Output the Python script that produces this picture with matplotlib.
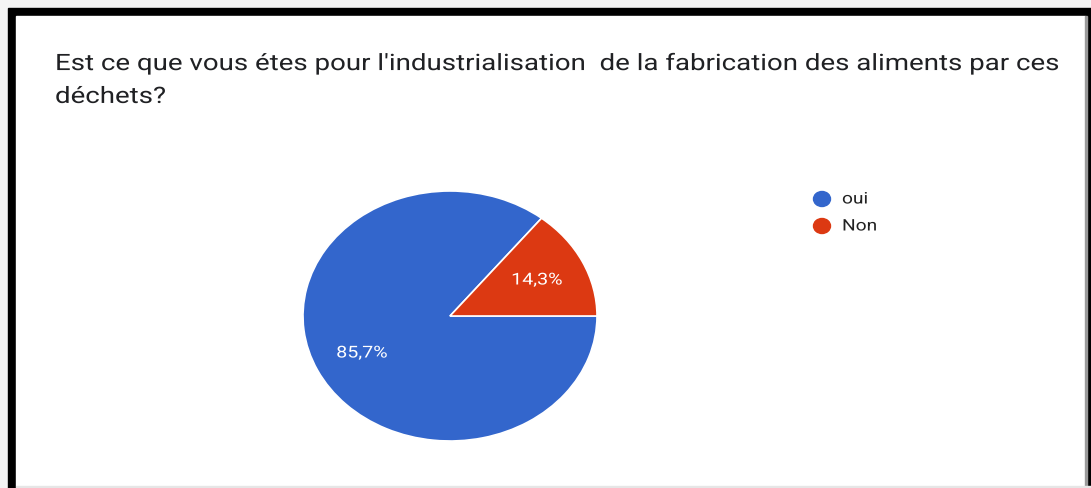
import matplotlib.pyplot as plt
from matplotlib.patches import Rectangle, Ellipse
from matplotlib.patheffects import AbstractPathEffect
from matplotlib.transforms import Affine2D

# data
labels = ["oui", "Non"]
values = [85.7, 14.3]
pct_text = ["85,7%", "14,3%"]
colors = ["#3366CC", "#DC3912"]
title = ("Est ce que vous étes pour l'industrialisation  de la fabrication des aliments par ces\n"
         "déchets?")

W, H = 1091, 488
SX = 1.2  # the screenshot is stretched sideways


class Stretch(AbstractPathEffect):
    # widen glyphs horizontally around a fixed x (display pixels)
    def __init__(self, x0, sx=SX):
        super().__init__()
        self.x0 = x0
        self.sx = sx

    def draw_path(self, renderer, gc, tpath, affine, rgbFace=None):
        t = affine + Affine2D().translate(-self.x0, 0).scale(self.sx, 1).translate(self.x0, 0)
        renderer.draw_path(gc, tpath, t, rgbFace)


fig = plt.figure(figsize=(W / 100, H / 100), dpi=100)
plt.rcParams['font.family'] = ['Roboto', 'DejaVu Sans']

# frame around the screenshot
bg = fig.add_axes([0, 0, 1, 1])
bg.set_xlim(0, W)
bg.set_ylim(H, 0)
bg.set_axis_off()
bg.add_patch(Rectangle((0, 0), W, H, color="#f4f4f4"))
bg.add_patch(Rectangle((8, 8), W - 8, H - 8, color="black"))
bg.add_patch(Rectangle((16, 16), W - 16 - 6, H - 16 - 2, color="white"))
bg.add_patch(Rectangle((W - 6, 16), 2, H - 16, color="#9a9a9a"))
bg.add_patch(Rectangle((16, H - 2), W - 16, 2, color="#e6e6e6"))

# pie drawn as ellipse by giving axes the bounding box
cx, cy, rx, ry = 450, 316, 147, 125
ax = fig.add_axes([(cx - rx) / W, 1 - (cy + ry) / H, 2 * rx / W, 2 * ry / H])
startangle = values[1] / 100 * 360
wedges, _ = ax.pie(values, colors=colors, startangle=startangle, counterclock=True,
                   wedgeprops=dict(edgecolor="white", linewidth=1.2))
ax.set_aspect("auto")
ax.set_xlim(-1, 1)
ax.set_ylim(-1, 1)

# overlay for text
top = fig.add_axes([0, 0, 1, 1])
top.set_xlim(0, W)
top.set_ylim(H, 0)
top.set_axis_off()
top.patch.set_alpha(0)

top.text(55, 80, title, fontsize=16.3, color="#202124", va="center",
         ha="left", linespacing=1.55, path_effects=[Stretch(55, 1.222)])

# percent labels
top.text(362, 353, pct_text[0], color="white", fontsize=11.8, ha="center", va="center",
         path_effects=[Stretch(362)])
top.text(537, 280, pct_text[1], color="white", fontsize=11.8, ha="center", va="center",
         path_effects=[Stretch(537)])

# legend
for i, (lab, col) in enumerate(zip(labels, colors)):
    y = 199 + i * 27
    top.add_patch(Ellipse((822, y), 17, 15, color=col))
    top.text(842, y, lab, fontsize=11.5, color="#222222", va="center", ha="left",
             path_effects=[Stretch(842)])

fig.savefig("out.png", dpi=100)
